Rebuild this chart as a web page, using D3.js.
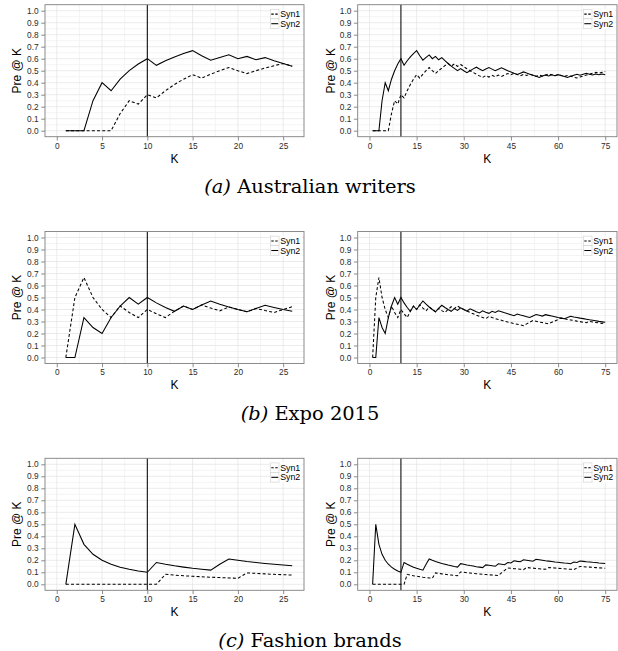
<!DOCTYPE html>
<html>
<head>
<meta charset="utf-8">
<script src="https://cdn.jsdelivr.net/npm/d3@7"></script>
<style>
  html, body { margin: 0; padding: 0; background: #ffffff; }
  svg { display: block; }
</style>
</head>
<body>
<svg id="chart" width="618" height="651"></svg>
<script>
// ---- data: precision at K for K = 1..75 ----
const kValues = d3.range(1, 76);

const writersSyn1 = [
  0, 0, 0, 0, 0, 0, 0.143, 0.25, 0.222, 0.3,
  0.273, 0.333, 0.385, 0.429, 0.467, 0.438, 0.471, 0.5, 0.526, 0.5,
  0.476, 0.5, 0.522, 0.542, 0.56, 0.538, 0.556, 0.536, 0.552, 0.533,
  0.516, 0.5, 0.485, 0.471, 0.457, 0.444, 0.459, 0.447, 0.462, 0.45,
  0.463, 0.452, 0.465, 0.477, 0.467, 0.478, 0.468, 0.458, 0.469, 0.46,
  0.471, 0.462, 0.453, 0.463, 0.455, 0.464, 0.474, 0.466, 0.458, 0.467,
  0.459, 0.452, 0.46, 0.453, 0.446, 0.439, 0.448, 0.456, 0.464, 0.471,
  0.479, 0.486, 0.479, 0.486, 0.493
];
const writersSyn2 = [
  0, 0, 0, 0.25, 0.4, 0.333, 0.429, 0.5, 0.556, 0.6,
  0.545, 0.583, 0.615, 0.643, 0.667, 0.625, 0.588, 0.611, 0.632, 0.6,
  0.619, 0.591, 0.609, 0.583, 0.56, 0.538, 0.519, 0.5, 0.517, 0.5,
  0.484, 0.5, 0.515, 0.529, 0.514, 0.5, 0.514, 0.526, 0.513, 0.5,
  0.512, 0.524, 0.512, 0.5, 0.489, 0.478, 0.468, 0.479, 0.49, 0.48,
  0.471, 0.462, 0.453, 0.444, 0.455, 0.464, 0.456, 0.466, 0.458, 0.467,
  0.459, 0.452, 0.444, 0.453, 0.462, 0.47, 0.463, 0.471, 0.478, 0.471,
  0.465, 0.472, 0.466, 0.473, 0.467
];
const expoSyn1 = [
  0, 0.5, 0.667, 0.5, 0.4, 0.333, 0.429, 0.375, 0.333, 0.4,
  0.364, 0.333, 0.385, 0.429, 0.4, 0.438, 0.412, 0.389, 0.421, 0.4,
  0.381, 0.409, 0.391, 0.375, 0.4, 0.423, 0.407, 0.429, 0.414, 0.4,
  0.387, 0.375, 0.364, 0.353, 0.343, 0.333, 0.324, 0.342, 0.333, 0.325,
  0.317, 0.31, 0.302, 0.295, 0.289, 0.283, 0.277, 0.271, 0.265, 0.28,
  0.294, 0.308, 0.302, 0.296, 0.291, 0.286, 0.281, 0.293, 0.305, 0.317,
  0.328, 0.323, 0.317, 0.313, 0.308, 0.303, 0.299, 0.294, 0.29, 0.3,
  0.296, 0.292, 0.288, 0.284, 0.293
];
const expoSyn2 = [
  0, 0, 0.333, 0.25, 0.2, 0.333, 0.429, 0.5, 0.444, 0.5,
  0.455, 0.417, 0.385, 0.429, 0.4, 0.438, 0.471, 0.444, 0.421, 0.4,
  0.381, 0.409, 0.435, 0.417, 0.4, 0.385, 0.407, 0.393, 0.414, 0.4,
  0.387, 0.406, 0.394, 0.382, 0.371, 0.389, 0.378, 0.368, 0.385, 0.375,
  0.39, 0.381, 0.372, 0.364, 0.356, 0.348, 0.362, 0.354, 0.347, 0.34,
  0.333, 0.346, 0.358, 0.352, 0.345, 0.357, 0.351, 0.345, 0.339, 0.333,
  0.328, 0.323, 0.333, 0.344, 0.338, 0.333, 0.328, 0.324, 0.319, 0.314,
  0.31, 0.306, 0.301, 0.297, 0.293
];
const fashionSyn1 = [
  0, 0, 0, 0, 0, 0, 0, 0, 0, 0,
  0, 0.083, 0.077, 0.071, 0.067, 0.063, 0.059, 0.056, 0.053, 0.05,
  0.095, 0.091, 0.087, 0.083, 0.08, 0.077, 0.074, 0.071, 0.103, 0.1,
  0.097, 0.094, 0.091, 0.088, 0.086, 0.083, 0.081, 0.079, 0.077, 0.075,
  0.073, 0.095, 0.116, 0.136, 0.133, 0.13, 0.128, 0.125, 0.122, 0.14,
  0.137, 0.135, 0.132, 0.13, 0.127, 0.125, 0.14, 0.138, 0.136, 0.133,
  0.131, 0.129, 0.127, 0.125, 0.123, 0.136, 0.149, 0.147, 0.145, 0.143,
  0.141, 0.139, 0.137, 0.135, 0.133
];
const fashionSyn2 = [
  0, 0.5, 0.333, 0.25, 0.2, 0.167, 0.143, 0.125, 0.111, 0.1,
  0.182, 0.167, 0.154, 0.143, 0.133, 0.125, 0.118, 0.167, 0.211, 0.2,
  0.19, 0.182, 0.174, 0.167, 0.16, 0.154, 0.148, 0.143, 0.172, 0.167,
  0.161, 0.156, 0.152, 0.147, 0.143, 0.139, 0.162, 0.158, 0.154, 0.15,
  0.171, 0.167, 0.163, 0.182, 0.178, 0.196, 0.191, 0.188, 0.204, 0.2,
  0.196, 0.192, 0.208, 0.204, 0.2, 0.196, 0.193, 0.19, 0.186, 0.183,
  0.18, 0.177, 0.175, 0.172, 0.185, 0.182, 0.194, 0.191, 0.188, 0.186,
  0.183, 0.181, 0.178, 0.176, 0.173
];

const captionTags = ["(a)", "(b)", "(c)"];
const captionNames = ["Australian writers", "Expo 2015", "Fashion brands"];
const seriesNames = ["Syn1", "Syn2"];
const yTickValues = [0, 0.1, 0.2, 0.3, 0.4, 0.5, 0.6, 0.7, 0.8, 0.9, 1.0];
const shortXTicks = [0, 5, 10, 15, 20, 25];
const longXTicks = [0, 15, 30, 45, 60, 75];
const shortMaxK = 26;
const cutoffK = 10;

// rows pair each dataset's two series
const rows = [
  { syn1: writersSyn1, syn2: writersSyn2 },
  { syn1: expoSyn1, syn2: expoSyn2 },
  { syn1: fashionSyn1, syn2: fashionSyn2 }
];

// ---- layout ----
const svg = d3.select("#chart");
const rowStep = 226.8;
const panelTop0 = 4.7;
const panelH = 132;
const columns = [
  { x0: 45, x1: 304, kMax: shortMaxK, domain: [-1.3, 27.3], ticks: shortXTicks, yTitleX: 21 },
  { x0: 357.7, x1: 617, kMax: 75, domain: [-3.75, 78.75], ticks: longXTicks, yTitleX: 335.3 }
];

const gridMajor = "#e3e3e3";
const gridMinor = "#f4f4f4";
const borderCol = "#7f7f7f";
const tickText = "#2b2b2b";
const sansFont = "'Liberation Sans', Arial, Helvetica, sans-serif";
const dashPattern = "3,2.2";

function midpoints(ticks, domain) {
  const out = [];
  const step = ticks[1] - ticks[0];
  for (let v = ticks[0] - step / 2; v <= domain[1]; v += step) {
    if (v >= domain[0] && v <= domain[1]) out.push(v);
  }
  return out;
}

rows.forEach((row, ri) => {
  const top = panelTop0 + rowStep * ri;
  const bottom = top + panelH;
  const y = d3.scaleLinear().domain([-0.05, 1.05]).range([bottom, top]);
  const yMinor = yTickValues.slice(0, -1).map(v => v + 0.05);

  columns.forEach(col => {
    const x = d3.scaleLinear().domain(col.domain).range([col.x0, col.x1]);
    const g = svg.append("g");

    // panel background
    g.append("rect")
      .attr("x", col.x0).attr("y", top)
      .attr("width", col.x1 - col.x0).attr("height", panelH)
      .attr("fill", "#ffffff");

    // minor grid
    g.selectAll(null).data(midpoints(col.ticks, col.domain)).enter().append("line")
      .attr("x1", d => x(d)).attr("x2", d => x(d))
      .attr("y1", top).attr("y2", bottom)
      .attr("stroke", gridMinor).attr("stroke-width", 1);
    g.selectAll(null).data(yMinor).enter().append("line")
      .attr("x1", col.x0).attr("x2", col.x1)
      .attr("y1", d => y(d)).attr("y2", d => y(d))
      .attr("stroke", gridMinor).attr("stroke-width", 1);

    // major grid
    g.selectAll(null).data(col.ticks).enter().append("line")
      .attr("x1", d => x(d)).attr("x2", d => x(d))
      .attr("y1", top).attr("y2", bottom)
      .attr("stroke", gridMajor).attr("stroke-width", 0.7);
    g.selectAll(null).data(yTickValues).enter().append("line")
      .attr("x1", col.x0).attr("x2", col.x1)
      .attr("y1", d => y(d)).attr("y2", d => y(d))
      .attr("stroke", gridMajor).attr("stroke-width", 0.7);

    // series lines
    const pts = s => kValues.map((k, i) => ({ k, v: s[i] })).filter(d => d.k <= col.kMax);
    const line = d3.line().x(d => x(d.k)).y(d => y(d.v));
    g.append("path").datum(pts(row.syn1))
      .attr("d", line).attr("fill", "none")
      .attr("stroke", "#000").attr("stroke-width", 1.05)
      .attr("stroke-dasharray", dashPattern);
    g.append("path").datum(pts(row.syn2))
      .attr("d", line).attr("fill", "none")
      .attr("stroke", "#000").attr("stroke-width", 1.05);

    // cut-off marker at K = 10
    g.append("line")
      .attr("x1", x(cutoffK)).attr("x2", x(cutoffK))
      .attr("y1", top).attr("y2", bottom)
      .attr("stroke", "#111").attr("stroke-width", 1.1);

    // panel border
    g.append("rect")
      .attr("x", col.x0).attr("y", top)
      .attr("width", col.x1 - col.x0).attr("height", panelH)
      .attr("fill", "none").attr("stroke", borderCol).attr("stroke-width", 0.9);

    // axes
    const xAxis = d3.axisBottom(x).tickValues(col.ticks).tickSize(3.8).tickPadding(2.2)
      .tickFormat(d3.format("d"));
    const xg = g.append("g").attr("transform", `translate(0,${bottom})`).call(xAxis);
    const yAxis = d3.axisLeft(y).tickValues(yTickValues).tickSize(3.8).tickPadding(2.6)
      .tickFormat(d3.format(".1f"));
    const yg = g.append("g").attr("transform", `translate(${col.x0},0)`).call(yAxis);
    [xg, yg].forEach(a => {
      a.select(".domain").remove();
      a.selectAll(".tick line").attr("stroke", borderCol).attr("stroke-width", 0.9);
      a.selectAll(".tick text")
        .attr("fill", tickText)
        .style("font-family", sansFont)
        .style("font-size", "8.3px");
    });

    // axis titles
    g.append("text")
      .attr("x", (col.x0 + col.x1) / 2).attr("y", bottom + 25.9)
      .attr("text-anchor", "middle")
      .style("font-family", sansFont).style("font-size", "12px")
      .attr("fill", "#000").text("K");
    g.append("text")
      .attr("transform", `translate(${col.yTitleX},${y(0.5)}) rotate(-90)`)
      .attr("text-anchor", "middle")
      .style("font-family", sansFont).style("font-size", "12px")
      .attr("fill", "#000").text("Pre @ K");

    // legend, top-right inside the panel
    const keyW = 8.5, keyH = 9.6;
    const keyX = col.x1 - 33.5;
    const keyY = top + 4.6;
    const lg = g.append("g");
    lg.append("rect")
      .attr("x", keyX - 0.5).attr("y", keyY - 0.5)
      .attr("width", col.x1 - 1.5 - keyX).attr("height", keyH * 2 + 1)
      .attr("fill", "#ffffff");
    seriesNames.forEach((name, i) => {
      const ky = keyY + i * keyH;
      lg.append("rect")
        .attr("x", keyX).attr("y", ky).attr("width", keyW).attr("height", keyH)
        .attr("fill", "#ffffff").attr("stroke", "#d0d0d0").attr("stroke-width", 0.6);
      lg.append("line")
        .attr("x1", keyX + 0.8).attr("x2", keyX + keyW - 0.8)
        .attr("y1", ky + keyH / 2).attr("y2", ky + keyH / 2)
        .attr("stroke", "#000").attr("stroke-width", 1.05)
        .attr("stroke-dasharray", i === 0 ? "2.4,1.6" : null);
      lg.append("text")
        .attr("x", keyX + keyW + 1.2).attr("y", ky + keyH / 2 + 3.1)
        .style("font-family", sansFont).style("font-size", "8.8px")
        .attr("fill", "#000").text(name);
    });
  });

  // sub-figure caption
  const cap = svg.append("text")
    .attr("x", 310).attr("y", 193 + rowStep * ri)
    .attr("text-anchor", "middle")
    .style("font-family", "'DejaVu Serif', 'Liberation Serif', serif")
    .style("font-size", "16px")
    .attr("fill", "#000");
  cap.append("tspan").style("font-style", "italic").text(captionTags[ri]);
  cap.append("tspan").text(" " + captionNames[ri]);
});

// size the captions so the first one spans its measured width
const caps = svg.selectAll("text").filter(function () {
  return this.getAttribute("x") === "310";
});
const firstW = caps.node().getComputedTextLength();
const capSize = 16 * 211.7 / firstW;
caps.style("font-size", capSize.toFixed(2) + "px");
</script>
</body>
</html>
